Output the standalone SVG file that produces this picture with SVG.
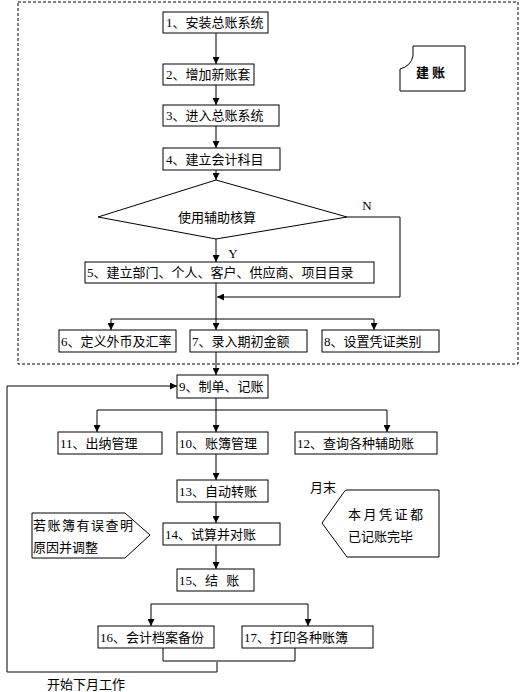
<svg xmlns="http://www.w3.org/2000/svg" width="520" height="692" viewBox="0 0 520 692">
<style>
.b{fill:#fff;stroke:#000;stroke-width:1}
.t{font-family:"Liberation Serif","Noto Sans CJK SC",serif;font-size:13px;fill:#000}
.c{fill:none;stroke:#000;stroke-width:1}
.d{fill:none;stroke:#000;stroke-width:1;stroke-dasharray:3,2}
</style>
<defs>
<marker id="ah" viewBox="0 0 8 8" refX="8" refY="4" markerWidth="7" markerHeight="7" markerUnits="userSpaceOnUse" orient="auto">
<path d="M0,0 L8,4 L0,8 Z" fill="#000"/>
</marker>
</defs>
<rect width="520" height="692" fill="#fff"/>
<rect id="frame" x="18" y="2" width="500" height="362" class="d"/>

<g id="connectors">
<path class="c" d="M216,33 V64" marker-end="url(#ah)"/>
<path class="c" d="M216,85 V105" marker-end="url(#ah)"/>
<path class="c" d="M216,126 V148" marker-end="url(#ah)"/>
<path class="c" d="M216,170 V180" marker-end="url(#ah)"/>
<path class="c" d="M216,239 V262" marker-end="url(#ah)"/>
<path class="c" d="M347,217 H400 V297 H217" marker-end="url(#ah)"/>
<path class="c" d="M216,283 V319 M111,319 H374"/>
<path class="c" d="M111,319 V330" marker-end="url(#ah)"/>
<path class="c" d="M216,319 V330" marker-end="url(#ah)"/>
<path class="c" d="M374,319 V330" marker-end="url(#ah)"/>
<path class="c" d="M216,352 V375" marker-end="url(#ah)"/>
<path class="c" d="M217,662 V672 H7 V386 H177" marker-end="url(#ah)"/>
<path class="c" d="M216,398 V410 M97,410 H387"/>
<path class="c" d="M97,410 V432" marker-end="url(#ah)"/>
<path class="c" d="M216,410 V432" marker-end="url(#ah)"/>
<path class="c" d="M387,410 V432" marker-end="url(#ah)"/>
<path class="c" d="M216,454 V480" marker-end="url(#ah)"/>
<path class="c" d="M216,502 V523" marker-end="url(#ah)"/>
<path class="c" d="M216,545 V569" marker-end="url(#ah)"/>
<path class="c" d="M151,604 H308"/>
<path class="c" d="M151,604 V626" marker-end="url(#ah)"/>
<path class="c" d="M308,604 V626" marker-end="url(#ah)"/>
<path class="c" d="M163,648 V661 H295 V648"/>
</g>

<g id="n1"><rect class="b" x="163" y="12" width="105" height="21"/><text class="t" x="166" y="27">1、安装总账系统</text></g>
<g id="n2"><rect class="b" x="163" y="64" width="91" height="21"/><text class="t" x="166" y="79">2、增加新账套</text></g>
<g id="n3"><rect class="b" x="163" y="105" width="116" height="21"/><text class="t" x="166" y="120">3、进入总账系统</text></g>
<g id="n4"><rect class="b" x="163" y="148" width="117" height="22"/><text class="t" x="166" y="164">4、建立会计科目</text></g>
<g id="dec"><polygon class="b" points="216,180 347,217 216,239 98,217"/><text class="t" x="217" y="222" text-anchor="middle">使用辅助核算</text></g>
<text class="t" x="367" y="210" text-anchor="middle">N</text>
<text class="t" x="233" y="258" text-anchor="middle">Y</text>
<g id="n5"><rect class="b" x="85" y="262" width="289" height="21"/><text class="t" x="87" y="277">5、建立部门、个人、客户、供应商、项目目录</text></g>
<g id="n6"><rect class="b" x="59" y="330" width="117" height="22"/><text class="t" x="61" y="346">6、定义外币及汇率</text></g>
<g id="n7"><rect class="b" x="190" y="330" width="117" height="22"/><text class="t" x="192" y="346">7、录入期初金额</text></g>
<g id="n8"><rect class="b" x="322" y="330" width="117" height="22"/><text class="t" x="324" y="346">8、设置凭证类别</text></g>
<g id="jianzhang"><path class="b" d="M413,46 H465 V91 H400 V69 Q411,66 413,56 Z"/><text class="t" x="432" y="77" text-anchor="middle" font-weight="bold" letter-spacing="3">建账</text></g>
<g id="n9"><rect class="b" x="177" y="375" width="91" height="23"/><text class="t" x="179" y="391">9、制单、记账</text></g>
<g id="n11"><rect class="b" x="58" y="432" width="104" height="22"/><text class="t" x="60" y="448">11、出纳管理</text></g>
<g id="n10"><rect class="b" x="177" y="432" width="91" height="22"/><text class="t" x="179" y="448">10、账簿管理</text></g>
<g id="n12"><rect class="b" x="295" y="432" width="142" height="22"/><text class="t" x="297" y="448">12、查询各种辅助账</text></g>
<g id="n13"><rect class="b" x="177" y="480" width="91" height="22"/><text class="t" x="179" y="496">13、自动转账</text></g>
<g id="n14"><rect class="b" x="163" y="523" width="117" height="22"/><text class="t" x="165" y="539">14、试算并对账</text></g>
<g id="n15"><rect class="b" x="177" y="569" width="77" height="22"/><text class="t" x="179" y="585" word-spacing="5">15、结 账</text></g>
<g id="n16"><rect class="b" x="98" y="626" width="116" height="22"/><text class="t" x="100" y="642">16、会计档案备份</text></g>
<g id="n17"><rect class="b" x="242" y="626" width="131" height="22"/><text class="t" x="244" y="642">17、打印各种账簿</text></g>
<g id="noteL"><path class="b" d="M32,513 H125 L150,535 L125,558 H32 Z"/><text class="t" x="33" y="530" letter-spacing="1.5">若账簿有误查明</text><text class="t" x="33" y="552">原因并调整</text></g>
<g id="noteR"><path class="b" d="M347,490 H439 V557 H347 L322,523 L344,492 Q345,490 347,490 Z"/><text class="t" x="348" y="519" letter-spacing="2.5">本月凭证都</text><text class="t" x="348" y="541">已记账完毕</text></g>
<text class="t" x="310" y="492" font-size="14">月末</text>
<text class="t" x="47" y="689">开始下月工作</text>
</svg>
